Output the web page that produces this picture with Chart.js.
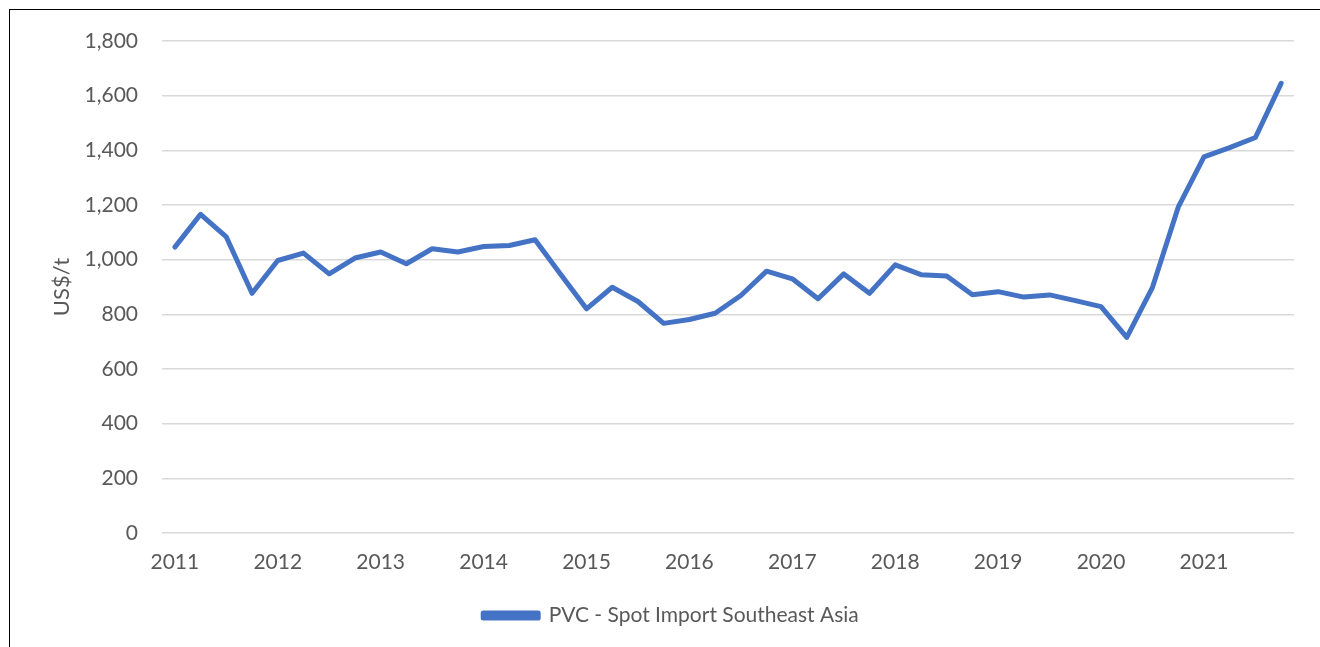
<!DOCTYPE html>
<html>
<head>
<meta charset="utf-8">
<script src="https://cdn.jsdelivr.net/npm/chart.js@4.4.0/dist/chart.umd.min.js"></script>
<style>
  html, body { margin: 0; padding: 0; background: #fff; }
  #wrap { position: relative; width: 1320px; height: 647px; overflow: hidden; }
  #frame { position: absolute; left: 9px; top: 9px; width: 1330px; height: 660px; border: 1px solid #000; box-sizing: border-box; pointer-events: none; }
  canvas { position: absolute; left: 0; top: 0; }
</style>
</head>
<body>
<div id="wrap">
  <canvas id="c" width="1320" height="647"></canvas>
  <div id="frame"></div>
</div>
<script>
const years = ['2011','2012','2013','2014','2015','2016','2017','2018','2019','2020','2021'];
const quarters = ['Q1','Q2','Q3','Q4'];
const seriesName = 'PVC - Spot Import Southeast Asia';
const pvcPrice = [
  1046, 1166, 1083, 877,
  997, 1024, 948, 1006,
  1028, 985, 1040, 1028,
  1048, 1052, 1073, 946,
  820, 899, 847, 767,
  781, 804, 869, 958,
  930, 857, 948, 877,
  981, 945, 940, 872,
  883, 863, 871, 850,
  828, 716, 899, 1192,
  1376, 1410, 1447, 1645
];
const yTicks = [0, 200, 400, 600, 800, 1000, 1200, 1400, 1600, 1800];

const categories = [];
years.forEach(y => quarters.forEach(q => categories.push(y + ' ' + q)));

const FONT = 'Lato';
const TXT = '#595959';

new Chart(document.getElementById('c'), {
  type: 'line',
  data: {
    labels: categories,
    datasets: [{
      label: seriesName,
      data: pvcPrice,
      borderColor: '#4472C4',
      backgroundColor: '#4472C4',
      borderWidth: 5,
      pointRadius: 0,
      tension: 0,
      borderCapStyle: 'round',
      borderJoinStyle: 'round'
    }]
  },
  options: {
    responsive: false,
    animation: false,
    layout: { padding: { left: 48, top: 41, right: 26, bottom: 11 } },
    plugins: {
      tooltip: { enabled: false },
      legend: {
        position: 'bottom',
        labels: {
          font: { family: FONT, size: 21 },
          color: TXT,
          boxWidth: 55,
          boxHeight: 5,
          padding: 10
        }
      }
    },
    scales: {
      x: {
        type: 'category',
        offset: true,
        grid: { display: false, drawTicks: false },
        border: { display: false },
        ticks: {
          autoSkip: false,
          maxRotation: 0,
          minRotation: 0,
          padding: 17,
          color: TXT,
          font: { family: FONT, size: 21 },
          callback: function(v, i) { return i % 4 === 0 ? years[i / 4] : ''; }
        },
        afterFit: function(s) { s.height = 62; }
      },
      y: {
        min: 0,
        max: 1800,
        afterBuildTicks: function(s) { s.ticks = yTicks.map(v => ({ value: v })); },
        grid: { color: '#d9d9d9', lineWidth: 1.5, drawTicks: false },
        border: { display: false },
        ticks: {
          padding: 24,
          color: TXT,
          font: { family: FONT, size: 21 },
          callback: function(v) { return v.toLocaleString('en-US'); }
        },
        title: {
          display: true,
          text: 'US$/t',
          color: TXT,
          font: { family: FONT, size: 22 },
          padding: { top: 1, bottom: 0 }
        },
        afterFit: function(s) { s.width = 114; }
      }
    }
  }
});
</script>
</body>
</html>
